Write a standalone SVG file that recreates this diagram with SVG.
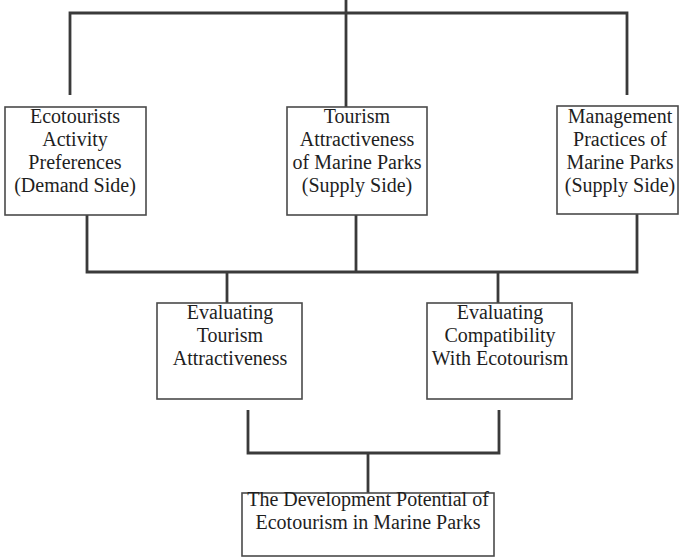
<svg xmlns="http://www.w3.org/2000/svg" width="680" height="558" viewBox="0 0 680 558">
<style>
.box{fill:#ffffff;stroke:#4a4a4a;stroke-width:1.6}
.con{fill:none;stroke:#3a3a3a;stroke-width:2.8;stroke-linejoin:miter}
text{font-family:"Liberation Serif","Times New Roman",serif;font-size:20px;fill:#1e1e1e;text-anchor:middle}
</style>
<rect width="680" height="558" fill="#ffffff"/>
<g id="connectors">
<path class="con" d="M346 0 V107"/>
<path class="con" d="M70 95 V13 H627 V95"/>
<path class="con" d="M87 215 V272 H637 V214"/>
<path class="con" d="M356 215 V272"/>
<path class="con" d="M227 272 V303"/>
<path class="con" d="M498 272 V303"/>
<path class="con" d="M248 410 V453 H499 V410"/>
<path class="con" d="M368 453 V493"/>
</g>
<g id="node-ecotourists">
<rect class="box" x="5" y="107" width="141" height="108"/>
<text x="75" y="123">Ecotourists</text>
<text x="75" y="146">Activity</text>
<text x="75" y="169">Preferences</text>
<text x="75" y="192">(Demand Side)</text>
</g>
<g id="node-attractiveness">
<rect class="box" x="287" y="107" width="140" height="108"/>
<text x="357" y="123">Tourism</text>
<text x="357" y="146">Attractiveness</text>
<text x="357" y="169">of Marine Parks</text>
<text x="357" y="192">(Supply Side)</text>
</g>
<g id="node-management">
<rect class="box" x="557" y="106" width="121" height="108"/>
<text x="620" y="123">Management</text>
<text x="620" y="146">Practices of</text>
<text x="620" y="169">Marine Parks</text>
<text x="620" y="192">(Supply Side)</text>
</g>
<g id="node-eval-attractiveness">
<rect class="box" x="157" y="303" width="145" height="96"/>
<text x="230" y="319">Evaluating</text>
<text x="230" y="342">Tourism</text>
<text x="230" y="365">Attractiveness</text>
</g>
<g id="node-eval-compatibility">
<rect class="box" x="427" y="303" width="145" height="96"/>
<text x="500" y="319">Evaluating</text>
<text x="500" y="342">Compatibility</text>
<text x="500" y="365">With Ecotourism</text>
</g>
<g id="node-potential">
<rect class="box" x="242" y="493" width="252" height="63"/>
<text x="368" y="506">The Development Potential of</text>
<text x="368" y="529">Ecotourism in Marine Parks</text>
</g>
</svg>
